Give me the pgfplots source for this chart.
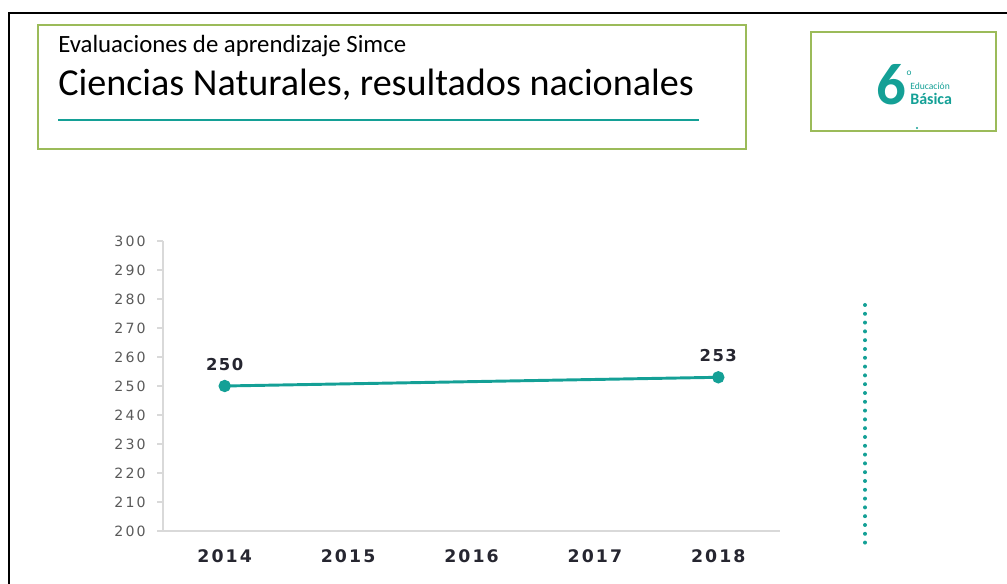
\documentclass[border=0pt]{standalone}
\usepackage{pgfplots}
\pgfplotsset{compat=1.18}
\usepackage{fontspec}
\setmainfont{Carlito}
\newfontfamily\dv[LetterSpace=15]{DejaVu Sans}
\newfontfamily\dvx[LetterSpace=12]{DejaVu Sans}
\newfontfamily\dvb[LetterSpace=9]{DejaVu Sans}
\definecolor{tealc}{RGB}{20,160,150}
\definecolor{boxgreen}{RGB}{155,187,89}
\definecolor{axisgrey}{RGB}{217,217,217}
\definecolor{ylab}{RGB}{89,89,89}
\definecolor{xlab}{RGB}{38,38,48}
\begin{document}
\begin{tikzpicture}[x=0.75pt,y=0.75pt]
\useasboundingbox (0,0) rectangle (1007,584);
% frame and header boxes
\draw[line width=2.2pt] (9,0) -- (9,571) -- (1007,571);
\draw[boxgreen, line width=2.2pt] (38,435) rectangle (746,559);
\draw[boxgreen, line width=2.2pt] (811,453) rectangle (996,552);
\node[anchor=base west, inner sep=0, font=\fontsize{18.6}{20}\selectfont, text=black] at (58,531) {Evaluaciones de aprendizaje Simce};
\node[anchor=base west, inner sep=0, font=\fontsize{28.6}{30}\selectfont, text=black] at (58,488) {Ciencias Naturales, resultados nacionales};
\draw[tealc, line width=2.2pt] (58,464) -- (699,464);
\node[anchor=base west, inner sep=0, font=\bfseries\fontsize{44}{44}\selectfont, text=tealc] at (876,479) {6};
\node[anchor=center, inner sep=0, font=\fontsize{7}{7}\selectfont, text=tealc] at (909,511) {o};
\node[anchor=base west, inner sep=0, font=\fontsize{7.2}{8}\selectfont, text=tealc] at (910,494) {Educación};
\node[anchor=base west, inner sep=0, font=\bfseries\fontsize{12}{12}\selectfont, text=tealc] at (910,479) {Básica};
\fill[tealc] (917,456) circle (1.2);
\draw[tealc, line width=3pt, line cap=round, dash pattern=on 0pt off 6.6pt] (865,279) -- (865,39);
\begin{axis}[
    at={(122.25pt,39.75pt)}, anchor=south west,
    scale only axis, width=462.75pt, height=217.5pt,
    xmin=2013.5, xmax=2018.5, ymin=200, ymax=300,
    axis x line=bottom, axis y line=left,
    axis line style={draw=axisgrey, line width=1.2pt, -},
    xtick={2014,2015,2016,2017,2018},
    ytick={200,210,...,300},
    tick align=outside,
    major tick length=4.5pt,
    every tick/.style={axisgrey, line width=1pt},
    x tick style={draw=none},
    xticklabel style={font=\dvx\bfseries\fontsize{13}{13}\selectfont, text=xlab, yshift=-6pt},
    yticklabel style={font=\dv\fontsize{10.6}{11}\selectfont, text=ylab, xshift=-5pt},
    /pgf/number format/assume math mode=true,
    /pgf/number format/1000 sep={},
    clip=false,
  ]
  \addplot[tealc, line width=2.2pt, mark=*, mark size=3.5pt,
    nodes near coords,
    every node near coord/.append style={anchor=center, yshift=16pt,
      font=\dvb\bfseries\fontsize{12.3}{13}\selectfont, text=xlab}]
    coordinates {(2014,250) (2018,253)};
\end{axis}
\end{tikzpicture}
\end{document}
